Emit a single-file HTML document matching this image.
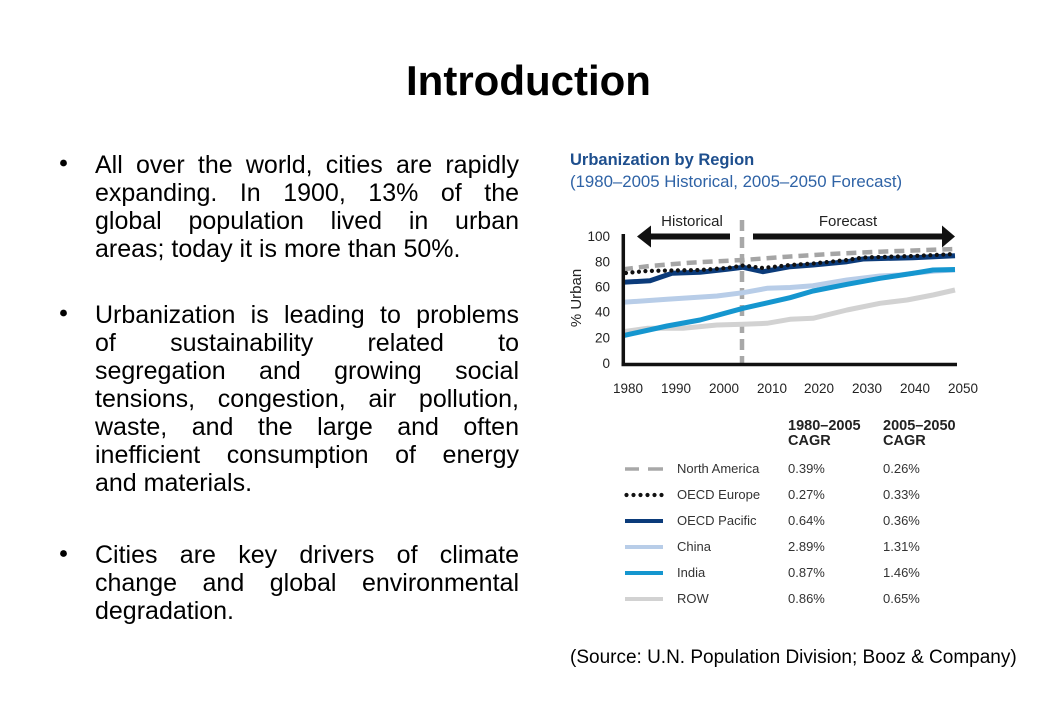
<!DOCTYPE html>
<html>
<head>
<meta charset="utf-8">
<style>
  html, body { margin:0; padding:0; background:#fff; }
  #page { position:relative; width:1058px; height:720px; overflow:hidden; background:#fff; }
  svg { position:absolute; left:0; top:0; }
  .para { position:absolute; left:95px; width:424px; font-family:"Liberation Sans", sans-serif; font-size:25px; line-height:28px; color:#000; }
  .j { text-align:justify; text-align-last:justify; height:28px; white-space:normal; }
  .l { text-align:left; height:28px; white-space:nowrap; }
</style>
</head>
<body>
<div id="page">
<svg width="1058" height="720" viewBox="0 0 1058 720" xmlns="http://www.w3.org/2000/svg" font-family="Liberation Sans, sans-serif">
  <!-- Title -->
  <text x="528.5" y="95" font-size="42" font-weight="bold" text-anchor="middle" fill="#000">Introduction</text>

  <!-- bullets -->
  <circle cx="63.5" cy="163" r="3.4" fill="#000"/>
  <circle cx="63.5" cy="313" r="3.4" fill="#000"/>
  <circle cx="63.5" cy="553.5" r="3.4" fill="#000"/>

  <!-- Chart title -->
  <text x="570" y="165" font-size="16.5" font-weight="bold" fill="#1e4f8e">Urbanization by Region</text>
  <text x="570" y="187" font-size="16.8" fill="#2f63a6">(1980–2005 Historical, 2005–2050 Forecast)</text>

  <!-- Historical / Forecast -->
  <text x="692" y="226" font-size="15" text-anchor="middle" fill="#222">Historical</text>
  <text x="848" y="226" font-size="15" text-anchor="middle" fill="#222">Forecast</text>

  <!-- arrows -->
  <rect x="649" y="233.5" width="81" height="6" fill="#111"/>
  <polygon points="637,236.5 651,225.5 651,247.5" fill="#111"/>
  <rect x="753" y="233.5" width="190" height="6" fill="#111"/>
  <polygon points="955,236.5 942,225.5 942,247.5" fill="#111"/>

  <!-- vertical dashed divider -->
  <line x1="742" y1="220" x2="742" y2="363" stroke="#a8a8a8" stroke-width="4.5" stroke-dasharray="11 6"/>

  <!-- Y labels -->
  <g font-size="13.5" fill="#222" text-anchor="end">
    <text x="610" y="368">0</text>
    <text x="610" y="342.5">20</text>
    <text x="610" y="316.5">40</text>
    <text x="610" y="291.5">60</text>
    <text x="610" y="266.5">80</text>
    <text x="610" y="241">100</text>
  </g>
  <text transform="translate(581,298) rotate(-90)" font-size="15" text-anchor="middle" fill="#222">% Urban</text>

  <!-- X labels -->
  <g font-size="13.5" fill="#222" text-anchor="middle">
    <text x="628" y="393">1980</text>
    <text x="676" y="393">1990</text>
    <text x="724" y="393">2000</text>
    <text x="772" y="393">2010</text>
    <text x="819" y="393">2020</text>
    <text x="867" y="393">2030</text>
    <text x="915" y="393">2040</text>
    <text x="963" y="393">2050</text>
  </g>

  <!-- series -->
  <g fill="none" stroke-linejoin="round">
    <!-- ROW -->
    <polyline stroke="#d2d2d2" stroke-width="5" points="623,331.7 647,328.3 683,328.3 717,325 743,324.3 767,323.3 790,319.3 813,318.3 847,310 880,303.3 907,300 933,295 955,290"/>
    <!-- China -->
    <polyline stroke="#b8cde8" stroke-width="5" points="623,302.3 667,299.3 717,296 743,292.7 767,288.3 790,287.5 813,285.7 847,280 880,276 900,275 915,273 935,271 955,270"/>
    <!-- India -->
    <polyline stroke="#1596cf" stroke-width="5" points="623,335.7 667,326 700,320 743,308.3 790,297.7 813,291 847,284.3 880,278.3 913,273.3 933,270 955,269.5"/>
    <!-- North America -->
    <polyline stroke="#a5a5a5" stroke-width="4.5" stroke-dasharray="10 6" points="623,269.3 650,266 690,262.7 743,260 787,256.7 830,254 880,251.7 955,249"/>
    <!-- OECD Pacific -->
    <polyline stroke="#0b3b7a" stroke-width="5" points="623,282.3 650,280.7 672,273.3 700,272.3 727,269.3 743,267.3 763,271.7 790,266.7 813,265 847,261.7 863,259 913,257.7 955,255.7"/>
    <!-- OECD Europe -->
    <polyline stroke="#111" stroke-width="4.2" stroke-linecap="round" stroke-dasharray="0 6.5" points="626,273 647,271 672,270.5 700,270 727,268 743,265.5 763,268 790,265 813,263.5 847,260 863,257.5 913,256 955,254"/>
  </g>

  <!-- axes -->
  <line x1="623.3" y1="234" x2="623.3" y2="366" stroke="#111" stroke-width="3.5"/>
  <line x1="621.5" y1="364.5" x2="957" y2="364.5" stroke="#111" stroke-width="3.5"/>

  <!-- Legend headers -->
  <g font-size="14.5" font-weight="bold" fill="#222">
    <text x="788" y="430">1980–2005</text>
    <text x="788" y="445">CAGR</text>
    <text x="883" y="430">2005–2050</text>
    <text x="883" y="445">CAGR</text>
  </g>

  <!-- Legend samples -->
  <line x1="625" y1="469" x2="639" y2="469" stroke="#a8a8a8" stroke-width="3.5"/>
  <line x1="648" y1="469" x2="663" y2="469" stroke="#a8a8a8" stroke-width="3.5"/>
  <g fill="#111">
    <circle cx="626.5" cy="495" r="2.1"/>
    <circle cx="633.5" cy="495" r="2.1"/>
    <circle cx="640.5" cy="495" r="2.1"/>
    <circle cx="647.5" cy="495" r="2.1"/>
    <circle cx="654.5" cy="495" r="2.1"/>
    <circle cx="661.5" cy="495" r="2.1"/>
  </g>
  <line x1="625" y1="521" x2="663" y2="521" stroke="#0b3b7a" stroke-width="4"/>
  <line x1="625" y1="547" x2="663" y2="547" stroke="#b8cde8" stroke-width="4"/>
  <line x1="625" y1="573" x2="663" y2="573" stroke="#1596cf" stroke-width="4"/>
  <line x1="625" y1="599" x2="663" y2="599" stroke="#d2d2d2" stroke-width="4"/>

  <!-- Legend text -->
  <g font-size="13" fill="#333">
    <text x="677" y="473">North America</text>
    <text x="677" y="499">OECD Europe</text>
    <text x="677" y="525">OECD Pacific</text>
    <text x="677" y="551">China</text>
    <text x="677" y="577">India</text>
    <text x="677" y="603">ROW</text>

    <text x="788" y="473">0.39%</text>
    <text x="788" y="499">0.27%</text>
    <text x="788" y="525">0.64%</text>
    <text x="788" y="551">2.89%</text>
    <text x="788" y="577">0.87%</text>
    <text x="788" y="603">0.86%</text>

    <text x="883" y="473">0.26%</text>
    <text x="883" y="499">0.33%</text>
    <text x="883" y="525">0.36%</text>
    <text x="883" y="551">1.31%</text>
    <text x="883" y="577">1.46%</text>
    <text x="883" y="603">0.65%</text>
  </g>

  <!-- Source -->
  <text x="570" y="663" font-size="19" fill="#000">(Source: U.N. Population Division; Booz &amp; Company)</text>
</svg>

<div class="para" style="top:150.6px;">
  <div class="j">All over the world, cities are rapidly</div>
  <div class="j">expanding. In 1900, 13% of the</div>
  <div class="j">global population lived in urban</div>
  <div class="l">areas; today it is more than 50%.</div>
</div>

<div class="para" style="top:300.6px;">
  <div class="j">Urbanization is leading to problems</div>
  <div class="j">of sustainability related to</div>
  <div class="j">segregation and growing social</div>
  <div class="j">tensions, congestion, air pollution,</div>
  <div class="j">waste, and the large and often</div>
  <div class="j">inefficient consumption of energy</div>
  <div class="l">and materials.</div>
</div>

<div class="para" style="top:540.6px;">
  <div class="j">Cities are key drivers of climate</div>
  <div class="j">change and global environmental</div>
  <div class="l">degradation.</div>
</div>
</div>
</body>
</html>
